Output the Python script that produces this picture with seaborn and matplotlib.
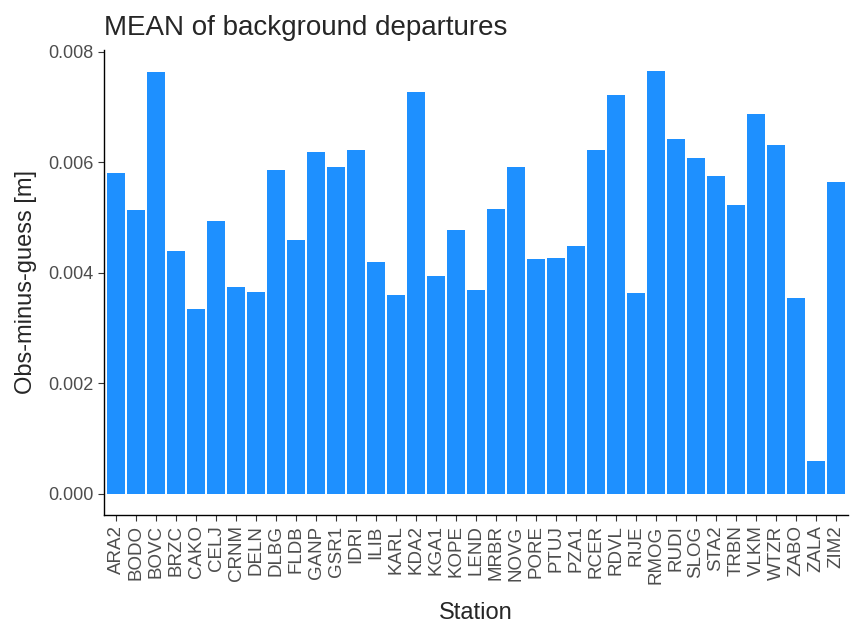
import numpy as np
import pandas as pd
import seaborn as sns
import matplotlib.pyplot as plt

# Stations and mean background departures
stations = ['ARA2', 'BODO', 'BOVC', 'BRZC', 'CAKO', 'CELJ', 'CRNM', 'DELN', 'DLBG', 'FLDB',
            'GANP', 'GSR1', 'IDRI', 'ILIB', 'KARL', 'KDA2', 'KGA1', 'KOPE', 'LEND', 'MRBR',
            'NOVG', 'PORE', 'PTUJ', 'PZA1', 'RCER', 'RDVL', 'RIJE', 'RMOG', 'RUDI', 'SLOG',
            'STA2', 'TRBN', 'VLKM', 'WTZR', 'ZABO', 'ZALA', 'ZIM2']
mean_omg = [0.00581, 0.00513, 0.00763, 0.00440, 0.00334, 0.00493, 0.00375, 0.00365, 0.00586, 0.00460,
            0.00618, 0.00592, 0.00623, 0.00420, 0.00360, 0.00727, 0.00395, 0.00478, 0.00369, 0.00516,
            0.00592, 0.00425, 0.00427, 0.00448, 0.00623, 0.00722, 0.00364, 0.00765, 0.00642, 0.00607,
            0.00575, 0.00522, 0.00687, 0.00632, 0.00354, 0.00059, 0.00564]
y_ticks = [0.000, 0.002, 0.004, 0.006, 0.008]

df = pd.DataFrame({'Station': stations, 'MEAN': mean_omg})

sns.set_style('ticks')
plt.rcParams['font.family'] = ['Liberation Sans', 'DejaVu Sans']

fig = plt.figure(figsize=(8.54, 6.25), dpi=100)
ax = fig.add_axes([0.1221, 0.176, 0.8709, 0.744])

sns.barplot(data=df, x='Station', y='MEAN', color='#1E90FF', saturation=1,
            width=0.9, linewidth=0, ax=ax)

n = len(stations)
ax.set_xlim(-0.6, n - 0.4)
ymax = max(mean_omg)
ax.set_ylim(-0.05 * ymax, 1.05 * ymax)
ax.set_yticks(y_ticks)
ax.set_yticklabels([f'{v:.3f}' for v in y_ticks])

sns.despine(ax=ax)
for side in ['left', 'bottom']:
    ax.spines[side].set_linewidth(1.0)
    ax.spines[side].set_color('black')

ax.tick_params(axis='both', length=4.5, width=0.8, color='#333333',
               labelcolor='#4D4D4D', labelsize=13, pad=3)
ax.tick_params(axis='x', labelsize=13.5)
plt.setp(ax.get_xticklabels(), rotation=90)

ax.set_xlabel('Station', fontsize=17, labelpad=13)
ax.set_ylabel('Obs-minus-guess [m]', fontsize=17, labelpad=8)
ax.set_title('MEAN of background departures', loc='left', fontsize=20, pad=11)

plt.savefig('out.png', dpi=100)
